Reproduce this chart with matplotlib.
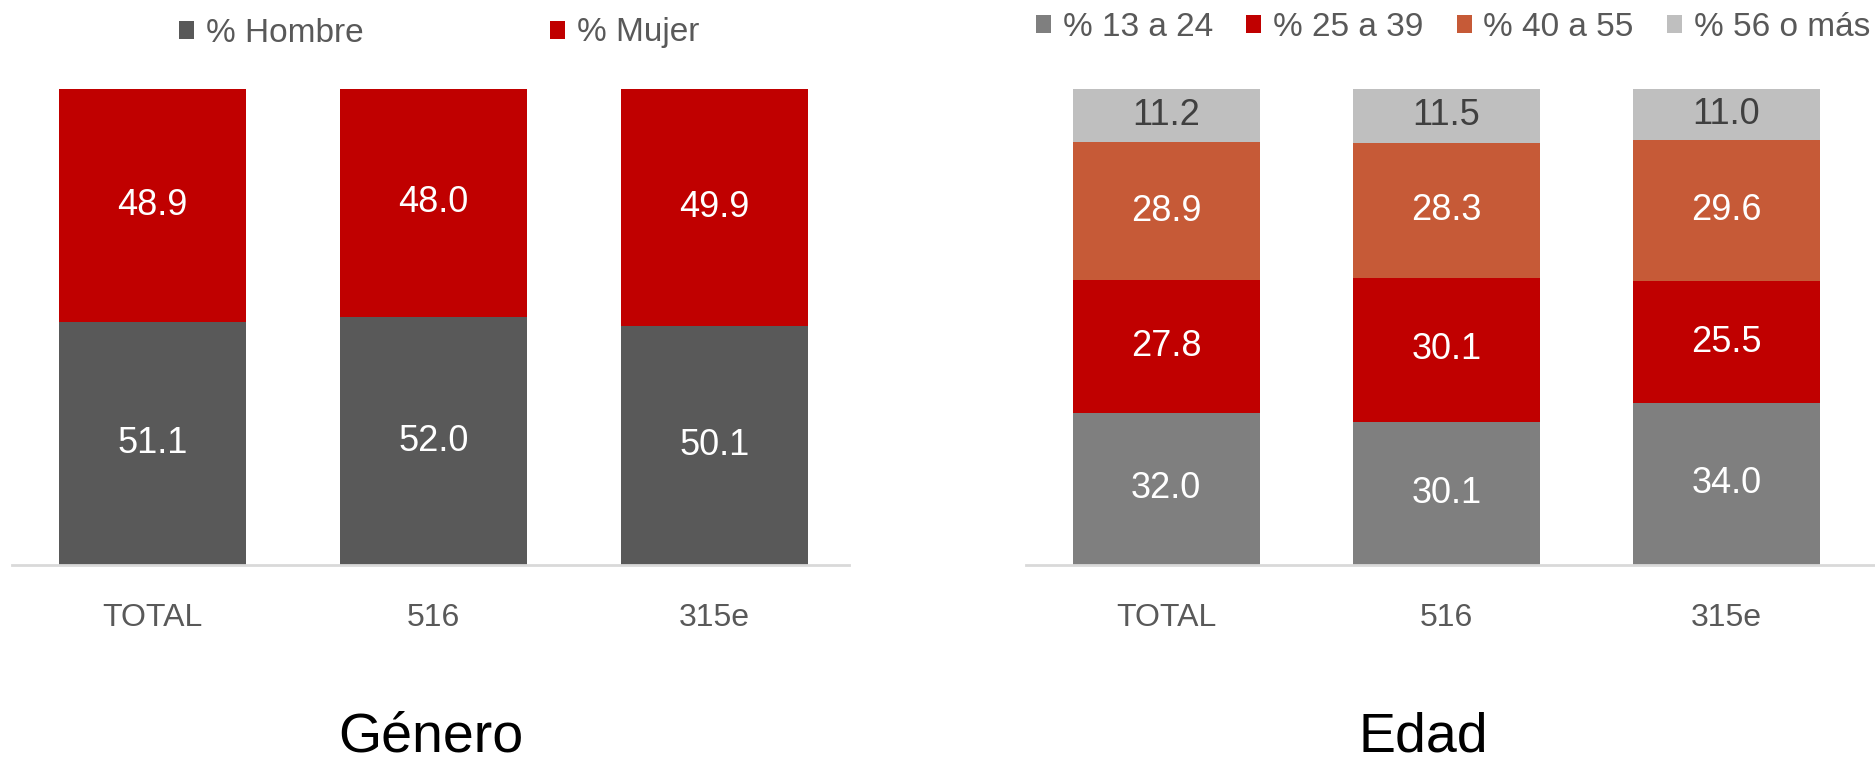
import numpy as np
import matplotlib
matplotlib.use("Agg")
import matplotlib.pyplot as plt

plt.rcParams['font.family'] = ['Liberation Sans Narrow', 'Liberation Sans', 'DejaVu Sans']

# data
categories = ['TOTAL', '516', '315e']

gender_names = ['% Hombre', '% Mujer']
hombre = [51.1, 52.0, 50.1]
mujer = [48.9, 48.0, 49.9]

age_names = ['% 13 a 24', '% 25 a 39', '% 40 a 55', '% 56 o más']
age_13_24 = [32.0, 30.1, 34.0]
age_25_39 = [27.8, 30.1, 25.5]
age_40_55 = [28.9, 28.3, 29.6]
age_56_mas = [11.2, 11.5, 11.0]

gender_colors = ['#595959', '#C00000']
gender_text = ['white', 'white']
age_colors = ['#7F7F7F', '#C00000', '#C65A37', '#BFBFBF']
age_text = ['white', 'white', 'white', '#404040']

W, H = 1875, 765
fig = plt.figure(figsize=(W / 100, H / 100), dpi=100)


def stacked(ax, series, colors, text_colors):
    x = np.arange(len(categories))
    bottom = np.zeros(len(categories))
    bars = []
    for vals, c, tc in zip(series, colors, text_colors):
        vals = np.array(vals)
        b = ax.bar(x, vals, 0.667, bottom=bottom, color=c, linewidth=0)
        bars.append(b)
        for xi, bi, v in zip(x, bottom, vals):
            ax.text(xi, bi + v / 2, f'{v:.1f}', ha='center', va='center',
                    color=tc, fontsize=26)
        bottom = bottom + vals
    ax.set_ylim(0, 100)
    ax.set_xticks(x)
    ax.set_xticklabels(categories, fontsize=23, color='#595959')
    ax.tick_params(axis='x', length=0, pad=27)
    ax.set_yticks([])
    for s in ['top', 'right', 'left']:
        ax.spines[s].set_visible(False)
    ax.spines['bottom'].set_color('#D9D9D9')
    ax.spines['bottom'].set_linewidth(2)
    return bars


bottom_f = 1 - 565 / H
height_f = (565 - 88.5) / H

ax1 = fig.add_axes([12 / W, bottom_f, (849 - 12) / W, height_f])
bars1 = stacked(ax1, [hombre, mujer], gender_colors, gender_text)
ax1.set_xlim(-0.5, 2.48)

ax2 = fig.add_axes([1026 / W, bottom_f, (W - 1026) / W, height_f])
bars2 = stacked(ax2, [age_13_24, age_25_39, age_40_55, age_56_mas], age_colors, age_text)
ax2.set_xlim(-0.5, 2.53)

fig.legend(bars1, gender_names, loc='center', ncol=2, frameon=False,
           bbox_to_anchor=(439 / W, 1 - 33 / H), fontsize=24,
           handlelength=0.45, handleheight=0.45, handletextpad=0.35,
           columnspacing=5.6, labelcolor='#595959')
fig.legend(bars2, age_names, loc='center', ncol=4, frameon=False,
           bbox_to_anchor=(1453 / W, 1 - 27 / H), fontsize=24,
           handlelength=0.45, handleheight=0.45, handletextpad=0.35,
           columnspacing=1.0, labelcolor='#595959')

fig.text(431 / W, 1 - 751 / H, 'Género', ha='center', va='baseline', fontsize=40, color='black')
fig.text(1423 / W, 1 - 751 / H, 'Edad', ha='center', va='baseline', fontsize=40, color='black')

fig.savefig('out.png', dpi=100)
